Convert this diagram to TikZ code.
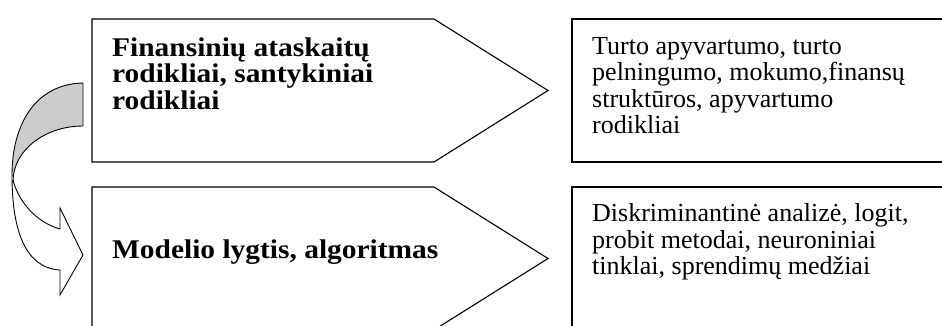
\documentclass[tikz,border=0pt]{standalone}
\usepackage{fontspec}
\setmainfont{Liberation Serif}
\newfontfamily\regfont{Liberation Serif}
\newfontfamily\boldfont[FakeStretch=1.09]{Liberation Serif}
\definecolor{greyfill}{RGB}{204,204,204}
\tikzset{
  outline/.style={draw=black, line width=1.1pt, line join=miter},
  bodytext/.style={anchor=base west, inner sep=0pt, font=\regfont\fontsize{26}{26.6}\selectfont},
  headtext/.style={anchor=base west, inner sep=0pt, font=\boldfont\bfseries\fontsize{27}{26.7}\selectfont},
}
\begin{document}
\begin{tikzpicture}[x=1pt,y=-1pt]
\useasboundingbox (0,0) rectangle (942,325);
\clip (0,0) rectangle (942,325);
\fill[white] (0,0) rectangle (942,325);
% pentagons
\draw[outline] (92,19) -- (434,19) -- (548,90.5) -- (434,162) -- (92,162) -- cycle;
\draw[outline] (92,187) -- (434,187) -- (548,258.5) -- (434,330) -- (92,330) -- cycle;
% right boxes
\draw[outline] (572,19) rectangle (960,162);
\draw[outline] (572,187) rectangle (960,340);
% curved arrow: back (grey) face
\fill[greyfill] (83,83) -- (83,126) .. controls (45,126) and (14,150) .. (13,180)
  -- (12,175) .. controls (12,125) and (35,84) .. (83,83) -- cycle;
\draw[line width=0.9pt] (12,175) .. controls (12,125) and (35,84) .. (83,83) -- (83,126)
  .. controls (45,126) and (14,150) .. (13,180);
% front (white) face
\draw[line width=0.9pt, fill=white] (13,180) .. controls (18,200) and (35,222) .. (60,229)
  -- (60,208) -- (83,255) -- (60,295) -- (60,270)
  .. controls (25,268) and (12,230) .. (12,175);
% texts
\node[headtext] (h1) at (112,56) {\begin{tabular}[t]{@{}l@{}}Finansinių ataskaitų\\rodikliai, santykiniai\\rodikliai\end{tabular}};
\node[headtext] (h2) at (112,258) {Modelio lygtis, algoritmas};
\node[bodytext] (b1) at (592,54) {\begin{tabular}[t]{@{}l@{}}Turto apyvartumo, turto\\pelningumo, mokumo,finansų\\struktūros, apyvartumo\\rodikliai\end{tabular}};
\node[bodytext] (b2) at (592,221.5) {\begin{tabular}[t]{@{}l@{}}Diskriminantinė analizė, logit,\\probit metodai, neuroniniai\\tinklai, sprendimų medžiai\end{tabular}};
\end{tikzpicture}
\end{document}
